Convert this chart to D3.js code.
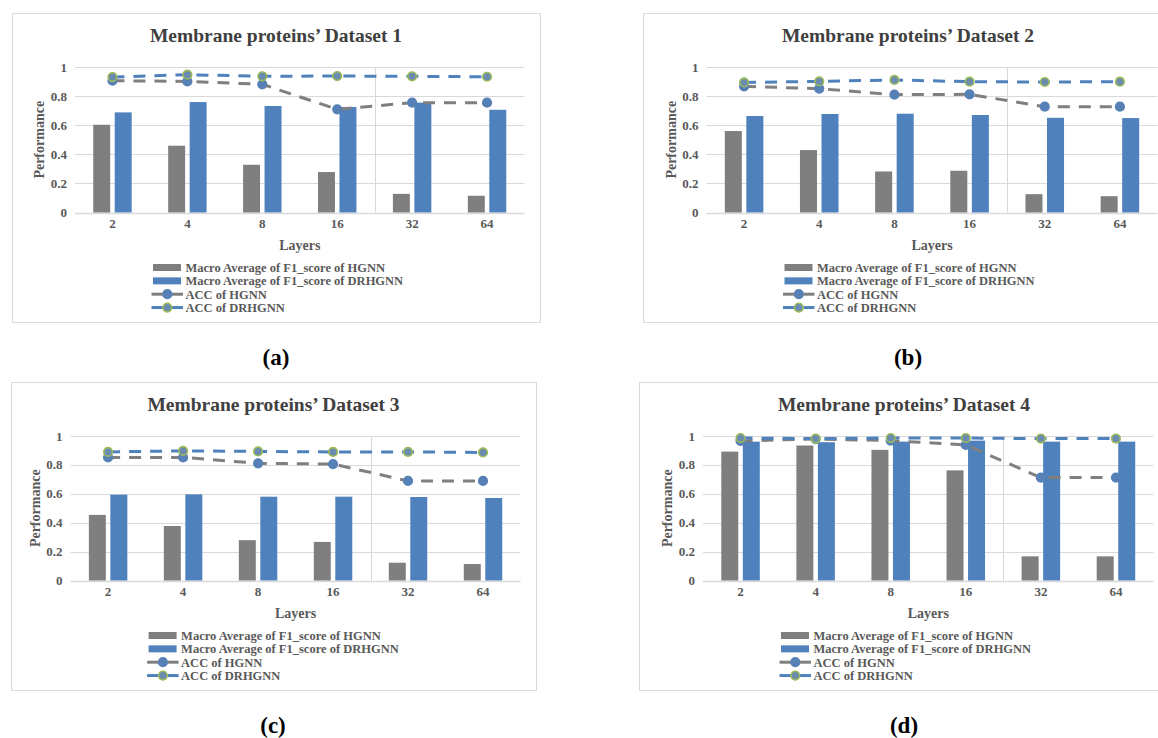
<!DOCTYPE html>
<html>
<head>
<meta charset="utf-8">
<script src="https://cdn.jsdelivr.net/npm/d3@7"></script>
<style>
  html, body { margin: 0; padding: 0; background: #ffffff; }
  svg { display: block; }
  text { font-family: "Liberation Serif", "Times New Roman", serif; font-weight: bold; }
</style>
</head>
<body>
<svg id="chart" width="1158" height="738"></svg>
<script>
// Categories and tick labels
const layers = ["2", "4", "8", "16", "32", "64"];
const yTicks = [0, 0.2, 0.4, 0.6, 0.8, 1];
const titles = [
  "Membrane proteins\u2019 Dataset 1",
  "Membrane proteins\u2019 Dataset 2",
  "Membrane proteins\u2019 Dataset 3",
  "Membrane proteins\u2019 Dataset 4"
];
const panelTags = ["(a)", "(b)", "(c)", "(d)"];
const seriesNames = [
  "Macro Average of F1_score of HGNN",
  "Macro Average of F1_score of DRHGNN",
  "ACC of HGNN",
  "ACC of DRHGNN"
];

// Macro average F1 of HGNN, one row per dataset
const f1HGNN = [
  [0.603, 0.459, 0.328, 0.278, 0.128, 0.115],
  [0.560, 0.429, 0.282, 0.287, 0.126, 0.112],
  [0.454, 0.377, 0.279, 0.267, 0.123, 0.114],
  [0.892, 0.934, 0.904, 0.762, 0.167, 0.167]
];
// Macro average F1 of DRHGNN
const f1DRHGNN = [
  [0.688, 0.759, 0.732, 0.725, 0.755, 0.706],
  [0.663, 0.677, 0.679, 0.670, 0.651, 0.649],
  [0.594, 0.596, 0.580, 0.580, 0.578, 0.571],
  [0.961, 0.957, 0.961, 0.968, 0.961, 0.961]
];
// Accuracy of HGNN
const accHGNN = [
  [0.906, 0.901, 0.881, 0.709, 0.755, 0.755],
  [0.867, 0.851, 0.810, 0.812, 0.727, 0.727],
  [0.852, 0.852, 0.811, 0.806, 0.689, 0.689],
  [0.966, 0.979, 0.968, 0.938, 0.712, 0.712]
];
// Accuracy of DRHGNN
const accDRHGNN = [
  [0.931, 0.947, 0.936, 0.938, 0.936, 0.933],
  [0.894, 0.901, 0.911, 0.899, 0.897, 0.899],
  [0.890, 0.897, 0.893, 0.890, 0.890, 0.886],
  [0.986, 0.982, 0.986, 0.986, 0.982, 0.982]
];

// Panel frames (the right-hand panels run past the page edge)
const panels = [
  { x: 12,  y: 13,  w: 528, h: 309, ml: 63 },
  { x: 643, y: 13,  w: 530, h: 309, ml: 63.5 },
  { x: 11,  y: 382, w: 525, h: 308, ml: 59.6 },
  { x: 639, y: 382, w: 530, h: 308, ml: 64 }
];
const tagPos = [
  { x: 276, y: 365 }, { x: 908, y: 365 },
  { x: 273, y: 733 }, { x: 904, y: 733 }
];

const C = {
  grey: "#7f7f7f",
  blue: "#4f81bd",
  grid: "#d9d9d9",
  title: "#404040",
  label: "#595959",
  hgnnDot: "#5680b6",
  drDotFill: "#6b8bb0",
  drDotStroke: "#9bbb59"
};

const svg = d3.select("#chart");

panels.forEach((p, k) => {
  const g = svg.append("g").attr("transform", `translate(${p.x},${p.y})`);

  // frame
  g.append("rect")
    .attr("x", 0.5).attr("y", 0.5)
    .attr("width", p.w).attr("height", p.h)
    .attr("fill", "#ffffff").attr("stroke", C.grid).attr("stroke-width", 1);

  const left = p.ml, right = p.w - 15.5, top = 54, bottom = p.h - 109.5;

  const x0 = d3.scaleBand().domain(layers).range([left, right]).padding(0);
  const bw = x0.bandwidth();
  const pair = bw * 0.513;
  const x1 = d3.scaleBand().domain(["h", "d"]).range([-pair / 2, pair / 2]).paddingInner(0.21);
  const y = d3.scaleLinear().domain([0, 1]).range([bottom, top]);
  const cx = l => x0(l) + bw / 2;

  // title
  g.append("text")
    .attr("x", p.w / 2).attr("y", 29.4)
    .attr("text-anchor", "middle")
    .attr("font-size", 19.5).attr("fill", C.title)
    .text(titles[k]);

  // horizontal gridlines
  g.append("g").selectAll("line").data(yTicks).join("line")
    .attr("x1", left).attr("x2", right)
    .attr("y1", d => Math.round(y(d)) + 0.5).attr("y2", d => Math.round(y(d)) + 0.5)
    .attr("stroke", C.grid).attr("stroke-width", d => d === 0 ? 1.3 : 1);

  // vertical separator between 16 and 32
  const sx = Math.round(x0("32")) + 0.5;
  g.append("line")
    .attr("x1", sx).attr("x2", sx).attr("y1", y(1)).attr("y2", y(0))
    .attr("stroke", C.grid).attr("stroke-width", 1);

  // y tick labels
  g.append("g").selectAll("text").data(yTicks).join("text")
    .attr("x", left - 8).attr("y", d => y(d)).attr("dy", "0.35em")
    .attr("text-anchor", "end")
    .attr("font-size", 13).attr("fill", C.label)
    .text(d => String(d));

  // x tick labels
  g.append("g").selectAll("text").data(layers).join("text")
    .attr("x", d => cx(d)).attr("y", bottom + 15.5)
    .attr("text-anchor", "middle")
    .attr("font-size", 13).attr("fill", C.label)
    .text(d => d);

  // axis titles
  g.append("text")
    .attr("x", (left + right) / 2).attr("y", bottom + 37.5)
    .attr("text-anchor", "middle")
    .attr("font-size", 14).attr("fill", C.label)
    .text("Layers");
  g.append("text")
    .attr("transform", `translate(${left - 31},${(top + bottom) / 2}) rotate(-90)`)
    .attr("text-anchor", "middle")
    .attr("font-size", 14).attr("fill", C.label)
    .text("Performance");

  // bars
  const barRows = [
    { key: "h", vals: f1HGNN[k], color: C.grey },
    { key: "d", vals: f1DRHGNN[k], color: C.blue }
  ];
  barRows.forEach(s => {
    g.append("g").selectAll("rect").data(layers).join("rect")
      .attr("x", (d) => cx(d) + x1(s.key))
      .attr("width", x1.bandwidth())
      .attr("y", (d, i) => y(s.vals[i]))
      .attr("height", (d, i) => y(0) - y(s.vals[i]))
      .attr("fill", s.color);
  });

  // accuracy lines
  const lineRows = [
    { vals: accHGNN[k], color: C.grey, dot: C.hgnnDot, ring: C.hgnnDot },
    { vals: accDRHGNN[k], color: C.blue, dot: C.drDotFill, ring: C.drDotStroke }
  ];
  lineRows.forEach(s => {
    const line = d3.line().x((d, i) => cx(layers[i])).y(d => y(d));
    g.append("path")
      .datum(s.vals)
      .attr("d", line)
      .attr("fill", "none")
      .attr("stroke", s.color)
      .attr("stroke-width", 3)
      .attr("stroke-dasharray", "12 9");
    g.append("g").selectAll("circle").data(s.vals).join("circle")
      .attr("cx", (d, i) => cx(layers[i]))
      .attr("cy", d => y(d))
      .attr("r", 4.3)
      .attr("fill", s.dot)
      .attr("stroke", s.ring)
      .attr("stroke-width", 1.6);
  });

  // legend
  const lx = left + 78, ly = bottom + 55, step = 13.35;
  const lg = g.append("g");
  seriesNames.forEach((name, i) => {
    const yy = ly + i * step;
    if (i < 2) {
      lg.append("rect")
        .attr("x", lx).attr("y", yy - 3.5).attr("width", 28).attr("height", 7)
        .attr("fill", i === 0 ? C.grey : C.blue);
    } else {
      const row = lineRows[i - 2];
      lg.append("line")
        .attr("x1", lx - 1.5).attr("x2", lx + 10).attr("y1", yy).attr("y2", yy)
        .attr("stroke", row.color).attr("stroke-width", 3);
      lg.append("line")
        .attr("x1", lx + 19).attr("x2", lx + 30).attr("y1", yy).attr("y2", yy)
        .attr("stroke", row.color).attr("stroke-width", 3);
      lg.append("circle")
        .attr("cx", lx + 14.3).attr("cy", yy).attr("r", 4.3)
        .attr("fill", row.dot).attr("stroke", row.ring).attr("stroke-width", 1.6);
    }
    lg.append("text")
      .attr("x", lx + 32.5).attr("y", yy).attr("dy", "0.35em")
      .attr("font-size", 12.5).attr("fill", C.label)
      .text(name);
  });
});

// sub-figure tags
svg.append("g").selectAll("text").data(panelTags).join("text")
  .attr("x", (d, i) => tagPos[i].x).attr("y", (d, i) => tagPos[i].y)
  .attr("text-anchor", "middle")
  .attr("font-size", 23).attr("fill", "#000000")
  .text(d => d);
</script>
</body>
</html>
